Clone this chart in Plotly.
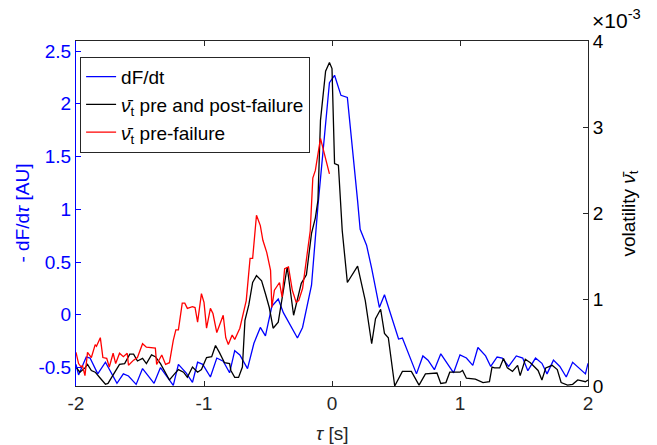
import plotly.graph_objects as go

# dF/dt (left axis)
t_blue = [-2.00, -1.98, -1.92, -1.89, -1.83, -1.77, -1.68, -1.63, -1.59, -1.53, -1.48, -1.39, -1.34,
          -1.24, -1.20, -1.14, -1.09, -1.05, -1.01, -0.95, -0.90, -0.85, -0.80, -0.76, -0.72, -0.66,
          -0.61, -0.56, -0.52, -0.47, -0.42, -0.38, -0.27, -0.23, -0.16, -0.11, -0.02, 0.02, 0.07,
          0.12, 0.20, 0.22, 0.27, 0.31, 0.37, 0.41, 0.52, 0.55, 0.66, 0.71, 0.75, 0.80, 0.85, 0.95,
          1.00, 1.05, 1.10, 1.14, 1.20, 1.24, 1.29, 1.33, 1.38, 1.44, 1.49, 1.53, 1.59, 1.64, 1.68,
          1.73, 1.78, 1.83, 1.88, 1.98, 2.00]
dfdt = [-0.47, -0.57, -0.40, -0.41, -0.56, -0.45, -0.65, -0.56, -0.58, -0.66, -0.51, -0.65, -0.50,
        -0.67, -0.47, -0.55, -0.64, -0.45, -0.47, -0.59, -0.41, -0.44, -0.55, -0.34, -0.38, -0.51,
        -0.27, -0.12, -0.20, 0.08, 0.15, 0.02, -0.22, -0.12, 0.28, 1.03, 2.20, 2.27, 2.08,
        2.06, 1.08, 0.81, 0.66, 0.44, 0.07, 0.19, -0.23, -0.22, -0.56, -0.39, -0.43, -0.52, -0.37, -0.55,
        -0.38, -0.41, -0.48, -0.31, -0.39, -0.49, -0.40, -0.41, -0.49, -0.39, -0.41, -0.53, -0.41, -0.46, -0.56,
        -0.43, -0.49, -0.59, -0.45, -0.56, -0.46]

# volatility pre and post-failure (right axis, x1e-3)
t_black = [-2.00, -1.97, -1.93, -1.91, -1.88, -1.85, -1.81, -1.77, -1.75, -1.70, -1.66, -1.62, -1.58,
           -1.55, -1.52, -1.48, -1.45, -1.41, -1.38, -1.34, -1.30, -1.27, -1.23, -1.20, -1.16, -1.13,
           -1.09, -1.05, -1.02, -0.98, -0.94, -0.91, -0.88, -0.84, -0.80, -0.79, -0.76, -0.73, -0.70,
           -0.68, -0.65, -0.62, -0.59, -0.55, -0.52, -0.49, -0.46, -0.42, -0.35, -0.30, -0.24, -0.20,
           -0.16, -0.13, -0.11, -0.09, -0.05, -0.02, 0.00, 0.02, 0.05, 0.08, 0.12, 0.20, 0.26, 0.31,
           0.34, 0.38, 0.41, 0.44, 0.49, 0.55, 0.62, 0.68, 0.73, 0.82, 0.85, 0.89, 0.92, 1.00, 1.02,
           1.05, 1.12, 1.18, 1.23, 1.25, 1.27, 1.31, 1.34, 1.37, 1.41, 1.45, 1.47, 1.51, 1.55, 1.61,
           1.64, 1.67, 1.72, 1.76, 1.79, 1.84, 1.88, 1.92, 1.98, 2.00]
vol_all = [0.22, 0.16, 0.21, 0.25, 0.18, 0.16, 0.09, 0.02, 0.03, 0.15, 0.25, 0.26, 0.37,
           0.37, 0.29, 0.32, 0.26, 0.36, 0.34, 0.26, 0.15, 0.07, 0.14, 0.19, 0.16, 0.10,
           0.22, 0.16, 0.19, 0.33, 0.34, 0.47, 0.39, 0.27, 0.26, 0.18, 0.10, 0.10, 0.22,
           0.76, 0.94, 1.20, 1.28, 1.22, 1.07, 0.91, 0.67, 0.74, 1.38, 0.82, 1.19, 1.29,
           1.77, 1.95, 2.15, 3.08, 3.65, 3.75, 3.68, 2.58, 2.56, 1.80, 1.20, 1.39, 0.99, 0.49,
           0.78, 0.89, 0.61, 0.56, 0.00, 0.17, 0.17, 0.01, 0.14, 0.15, 0.03, 0.04, 0.16, 0.16, 0.18,
           0.09, 0.08, 0.04, 0.05, 0.22, 0.21, 0.21, 0.32, 0.21, 0.17, 0.24, 0.12, 0.31, 0.27, 0.18,
           0.07, 0.21, 0.24, 0.19, 0.04, 0.01, 0.02, 0.07, 0.05, 0.07]

# volatility pre-failure (right axis, x1e-3)
t_red = [-2.00, -1.98, -1.96, -1.95, -1.93, -1.91, -1.88, -1.85, -1.84, -1.81, -1.79, -1.76, -1.74,
         -1.71, -1.69, -1.66, -1.63, -1.60, -1.59, -1.55, -1.52, -1.48, -1.45, -1.38, -1.37, -1.33,
         -1.30, -1.27, -1.24, -1.22, -1.20, -1.17, -1.15, -1.13, -1.09, -1.07, -1.05, -1.02, -1.00,
         -0.98, -0.95, -0.93, -0.90, -0.85, -0.83, -0.81, -0.78, -0.76, -0.72, -0.67, -0.64, -0.62,
         -0.59, -0.56, -0.54, -0.51, -0.48, -0.47, -0.45, -0.41, -0.39, -0.37, -0.34, -0.31, -0.28,
         -0.26, -0.23, -0.19, -0.17, -0.15, -0.13, -0.09, -0.02]
vol_pre = [0.39, 0.26, 0.22, 0.24, 0.12, 0.39, 0.33, 0.48, 0.46, 0.56, 0.33, 0.32, 0.22,
           0.38, 0.26, 0.38, 0.34, 0.38, 0.24, 0.30, 0.33, 0.49, 0.45, 0.44, 0.25, 0.36,
           0.25, 0.27, 0.53, 0.65, 0.65, 0.96, 0.96, 0.90, 0.92, 0.91, 0.74, 1.07, 0.97,
           0.67, 0.90, 0.84, 0.62, 0.82, 0.56, 0.48, 0.59, 0.54, 0.67, 0.99, 1.48, 1.48,
           1.98, 1.86, 1.69, 1.55, 1.34, 0.91, 1.11, 1.20, 1.03, 1.36, 1.38, 1.11, 0.97,
           0.99, 1.13, 1.57, 1.80, 2.41, 2.50, 2.87, 2.46]

x_ticks = [-2, -1, 0, 1, 2]
left_ticks = [-0.5, 0, 0.5, 1, 1.5, 2, 2.5]
left_labels = ["-0.5", "0", "0.5", "1", "1.5", "2", "2.5"]
right_ticks = [0, 1, 2, 3, 4]

FONT = "Liberation Sans, Arial, Helvetica, sans-serif"
DARK = "#262626"
BLUE = "#0000FF"
FS = 19

fig = go.Figure()
fig.add_trace(go.Scatter(x=t_blue, y=dfdt, mode="lines", name="dF/dt", legendgroup="a",
                         line=dict(color=BLUE, width=1.3), yaxis="y"))
fig.add_trace(go.Scatter(x=t_black, y=vol_all, mode="lines", legendgroup="b",
                         name="<i>ν̄</i><sub>t</sub> pre and post-failure",
                         line=dict(color="black", width=1.3), yaxis="y2"))
fig.add_trace(go.Scatter(x=t_red, y=vol_pre, mode="lines", legendgroup="c",
                         name="<i>ν̄</i><sub>t</sub> pre-failure",
                         line=dict(color="#FF0000", width=1.3), yaxis="y2"))

fig.update_layout(
    width=649, height=437,
    margin=dict(l=68, r=69, t=33, b=59, autoexpand=False),
    paper_bgcolor="white", plot_bgcolor="white",
    font=dict(family=FONT, size=FS, color=DARK),
    showlegend=True,
    legend=dict(x=0.008, y=0.954, xanchor="left", yanchor="top",
                bgcolor="white", bordercolor=DARK, borderwidth=1,
                font=dict(size=19, color="black"), tracegroupgap=0,
                itemwidth=30),
    xaxis=dict(range=[-2, 2], tickvals=x_ticks, ticktext=[str(v) for v in x_ticks],
               ticks="inside", ticklen=5, tickcolor=DARK, showline=True, linecolor=DARK,
               linewidth=1, mirror="ticks", showgrid=False, zeroline=False, automargin=False,
               tickfont=dict(size=FS, color=DARK)),
    yaxis=dict(range=[-0.675, 2.595], tickvals=left_ticks, ticktext=left_labels,
               ticks="inside", ticklen=5, tickcolor=BLUE, showline=True, linecolor=BLUE,
               linewidth=1, showgrid=False, zeroline=False, automargin=False,
               tickfont=dict(size=FS, color=BLUE)),
    yaxis2=dict(range=[0, 4], tickvals=right_ticks, ticktext=[str(v) for v in right_ticks],
                overlaying="y", side="right", anchor="x", automargin=False,
                ticks="inside", ticklen=5, tickcolor=DARK, showline=True, linecolor=DARK,
                linewidth=1, showgrid=False, zeroline=False,
                tickfont=dict(size=FS, color="black")),
)

# axis titles
fig.add_annotation(xref="paper", yref="paper", x=0.5, y=0, xanchor="center", yanchor="middle",
                   yshift=-47, text="<i>τ</i> [s]", showarrow=False,
                   font=dict(size=FS, color=DARK, family=FONT))
fig.add_annotation(xref="paper", yref="paper", x=0, y=0.5, xanchor="center", yanchor="middle",
                   xshift=-54, textangle=-90, text="- dF/d<i>τ</i> [AU]", showarrow=False,
                   font=dict(size=FS, color=BLUE, family=FONT))
fig.add_annotation(xref="paper", yref="paper", x=1, y=0.5, xanchor="center", yanchor="middle",
                   xshift=41, textangle=-90, text="volatility <i>ν̄</i><sub>t</sub>", showarrow=False,
                   font=dict(size=FS, color="black", family=FONT))
fig.add_annotation(xref="paper", yref="paper", x=1.0, y=1.0435, xanchor="left", yanchor="middle",
                   xshift=2, yshift=7, text="×10<sup>-3</sup>", showarrow=False,
                   font=dict(size=21, color="black", family=FONT))

fig.write_html("out.html")
